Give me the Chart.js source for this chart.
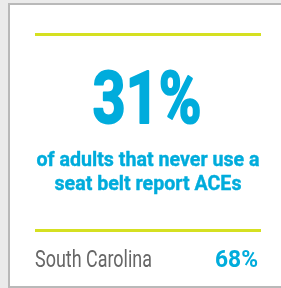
<!DOCTYPE html>
<html>
<head>
<meta charset="utf-8">
<script src="https://cdn.jsdelivr.net/npm/chart.js@4"></script>
<style>
  html, body { margin: 0; padding: 0; background: #ebebeb; }
  canvas { display: block; }
</style>
</head>
<body>
<canvas id="card" width="281" height="288"></canvas>
<script>
const headlineValue = [31];
const captionLines = ['of adults that never use a', 'seat belt report ACEs'];
const compareLabels = ['South Carolina'];
const compareValues = [68];

const CYAN = '#00acdc';
const LIME = '#d5e021';
const GREY = '#666666';

// draw text squeezed horizontally to fit a given width (stand-in for a condensed face)
function drawFit(ctx, text, x, y, font, color, align, width, extra) {
    ctx.save();
    ctx.font = font;
    ctx.fillStyle = color;
    ctx.textBaseline = 'alphabetic';
    ctx.textAlign = align;
    const w = ctx.measureText(text).width;
    const sx = width / w;
    ctx.translate(x, y);
    ctx.scale(sx, 1);
    ctx.fillText(text, 0, 0);
    if (extra) {
        // thicken a little, the original face is heavier
        ctx.strokeStyle = color;
        ctx.lineWidth = extra;
        ctx.lineJoin = 'round';
        ctx.strokeText(text, 0, 0);
    }
    ctx.restore();
    return sx;
}

const cardPlugin = {
    id: 'cardPlugin',
    beforeDraw(chart) {
        const ctx = chart.ctx;
        ctx.save();
        // page + card
        ctx.fillStyle = '#ebebeb';
        ctx.fillRect(0, 0, chart.width, chart.height);
        ctx.fillStyle = '#ffffff';
        ctx.fillRect(8, 3, chart.width, 284);
        ctx.strokeStyle = '#b9b9b9';
        ctx.lineWidth = 2;
        ctx.beginPath();
        ctx.moveTo(9, chart.height);
        ctx.lineTo(9, 4);
        ctx.lineTo(chart.width, 4);
        ctx.moveTo(8, 287);
        ctx.lineTo(chart.width, 287);
        ctx.stroke();

        // lime rules
        ctx.fillStyle = LIME;
        ctx.fillRect(35, 33, 226, 3);
        ctx.fillRect(35, 229, 226, 3);
        ctx.restore();
    },
    afterDraw(chart) {
        const ctx = chart.ctx;
        drawFit(ctx, headlineValue[0] + '%', 147, 123, 'bold 72px Roboto', CYAN, 'center', 109, 2);
        ctx.save();
        ctx.font = 'bold 21px Roboto';
        const sx = 223 / ctx.measureText(captionLines[0]).width;
        ctx.restore();
        captionLines.forEach((line, i) => {
            ctx.save();
            ctx.font = 'bold 21px Roboto';
            const w = ctx.measureText(line).width * sx;
            ctx.restore();
            drawFit(ctx, line, 148, 166 + i * 24, 'bold 21px Roboto', CYAN, 'center', w, 0.4);
        });
        drawFit(ctx, compareLabels[0], 35, 267, '24px Roboto', GREY, 'left', 117);
        drawFit(ctx, compareValues[0] + '%', 258, 267, 'bold 24px Roboto', CYAN, 'right', 43);
    }
};

new Chart(document.getElementById('card').getContext('2d'), {
    type: 'bar',
    data: { labels: compareLabels, datasets: [] },
    options: {
        responsive: false,
        animation: false,
        plugins: { legend: { display: false }, tooltip: { enabled: false } },
        scales: { x: { display: false }, y: { display: false } }
    },
    plugins: [cardPlugin]
});
</script>
</body>
</html>
